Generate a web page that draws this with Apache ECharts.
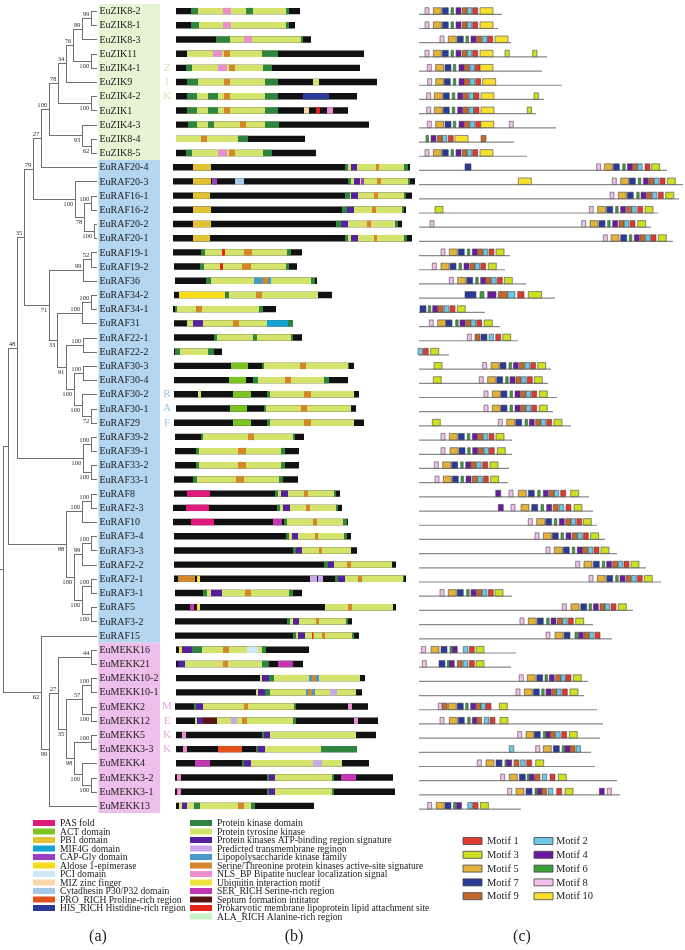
<!DOCTYPE html>
<html><head><meta charset="utf-8">
<script src="https://cdn.jsdelivr.net/npm/echarts@6/dist/echarts.min.js"></script>
<style>html,body{margin:0;padding:0;background:#fff}#c{width:685px;height:950px}</style>
</head><body><div id="c"></div>
<script>
// ---------------- DATA ----------------
const genes = ['EuZIK8-2','EuZIK8-1','EuZIK8-3','EuZIK11','EuZIK4-1','EuZIK9','EuZIK4-2','EuZIK1','EuZIK4-3','EuZIK8-4','EuZIK8-5',
'EuRAF20-4','EuRAF20-3','EuRAF16-1','EuRAF16-2','EuRAF20-2','EuRAF20-1','EuRAF19-1','EuRAF19-2','EuRAF36','EuRAF34-2','EuRAF34-1','EuRAF31','EuRAF22-1','EuRAF22-2','EuRAF30-3','EuRAF30-4','EuRAF30-2','EuRAF30-1','EuRAF29','EuRAF39-2','EuRAF39-1','EuRAF33-2','EuRAF33-1','EuRAF8','EuRAF2-3','EuRAF10','EuRAF3-4','EuRAF3-3','EuRAF2-2','EuRAF2-1','EuRAF3-1','EuRAF5','EuRAF3-2','EuRAF15',
'EuMEKK16','EuMEKK21','EuMEKK10-2','EuMEKK10-1','EuMEKK2','EuMEKK12','EuMEKK5','EuMEKK3-3','EuMEKK4','EuMEKK3-2','EuMEKK3-1','EuMEKK13'];
const groupNames = ['ZIK','RAF','MEKK'];
const groupSizes = [11, 34, 12];

// tree (Newick pieces, branch lengths scaled, internal labels = bootstrap)
const cladeZIK = "((((((EuZIK8-2:6,EuZIK8-1:6)99:9,EuZIK8-3:15)99:9,(EuZIK11:6,EuZIK4-1:6)100:18)76:7,EuZIK9:31)34:8,(EuZIK4-2:6,EuZIK1:6)100:33)78:9,(EuZIK4-3:15,(EuZIK8-4:6,EuZIK8-5:6)62:9)93:33)100";
const cladeRAF20 = "(EuRAF20-3:22,((EuRAF16-1:6,EuRAF16-2:6)100:7,(EuRAF20-2:3,EuRAF20-1:3)100:10)78:9)100";
const cladeRAF19 = "((EuRAF19-1:6,EuRAF19-2:6)52:8,EuRAF36:14)99";
const cladeRAF34 = "((EuRAF34-2:6,EuRAF34-1:6)100:9,EuRAF31:15)100";
const cladeRAF22 = "(EuRAF22-1:14,EuRAF22-2:14)100";
const cladeRAF30 = "((EuRAF30-3:14,EuRAF30-4:14)100:9,(EuRAF30-2:15,(EuRAF30-1:6,EuRAF29:6)72:9)100:8)100";
const cladeRAF39 = "((EuRAF39-2:6,EuRAF39-1:6)100:8,(EuRAF33-2:6,EuRAF33-1:6)100:8)100";
const cladeRAF8 = "((EuRAF8:6,EuRAF2-3:6)100:9,EuRAF10:15)100";
const cladeRAF3 = "(((EuRAF3-4:6,EuRAF3-3:6)100:9,EuRAF2-2:15)99:8,((EuRAF2-1:6,EuRAF3-1:6)100:9,(EuRAF5:6,EuRAF3-2:6)100:9)100:8)100";
const cladeMEKK = "((EuMEKK16:6,EuMEKK21:6)44:33,(((EuMEKK10-2:6,EuMEKK10-1:6)100:9,(EuMEKK2:6,EuMEKK12:6)100:9)57:16,((EuMEKK5:6,EuMEKK3-3:6)100:17,(EuMEKK4:15,(EuMEKK3-2:6,EuMEKK3-1:6)100:9)100:8)98:8)35:8)27";
const treeNewick = `((((((${cladeZIK}:8,EuRAF20-4:56)27:8,${cladeRAF20}:42)79:9,(${cladeRAF19}:34,(${cladeRAF34}:25,(${cladeRAF22}:17,${cladeRAF30}:8)91:9)33:8)71:25)35:7,${cladeRAF39}:66)48:9,(${cladeRAF8}:16,${cladeRAF3}:8)88:58):5,(EuRAF15:56,(${cladeMEKK}:9,EuMEKK13:48)99:8)62:38):3`;

// domain legend
const domainCodes = ['PAS','ACT','PB1','MIF4G','CAP','ALD','PCI','MIZ','CYT','PRO','HIS','PK','PTK','ATP','TM','LPS','ST','NLS','UIM','SER','SEP','PROK','ALA'];
const domainNames = ['PAS fold','ACT domain','PB1 domain','MIF4G domain','CAP-Gly domain','Aldose 1-epimerase','PCI domain','MIZ zinc finger','Cytadhesin P30/P32 domain','PRO_RICH Proline-rich region','HIS_RICH Histidine-rich region',
'Protein kinase domain','Protein tyrosine kinase','Protein kinases ATP-binding region signature','Predicted transmembrane reginon','Lipopolysaccharide kinase family','Serine/Threonine protein kinases active-site signature','NLS_BP Bipatite nuclear localization signal','Ubiquitin interaction motif','SER_RICH Serine-rich region','Septum formation intitator','Prokaryotic membrane lipoprotein lipid attachment site','ALA_RICH Alanine-rich region'];

// protein extents (scaled length units) and domains [code, start, end]
const proteinSpans = [[4,128],[4,123],[4,139],[4,192],[4,188],[4,205],[4,185],[4,176],[4,197],[4,133],[4,144],
[1,238],[1,243],[1,240],[1,234],[1,230],[1,240],[1,130],[2,125],[3,145],[2,160],[1,104],[2,121],[2,130],[2,50],[2,182],[2,176],[2,187],[4,184],[2,192],[3,132],[3,127],[3,127],[2,126],[2,168],[1,170],[1,176],[2,179],[2,185],[2,224],[2,234],[3,130],[3,224],[3,180],[3,187],
[4,137],[4,131],[4,193],[4,190],[3,196],[4,206],[4,204],[4,185],[4,197],[3,221],[3,223],[4,142]];
const domainSegments = [
[['PTK',19,117],['PK',19,26],['NLS',51,59],['PK',74,81],['PK',114,117]],
[['PTK',19,117],['PK',19,27],['NLS',51,59],['PK',114,117]],
[['PTK',44,131],['PK',44,58],['NLS',72,80],['PK',129,131]],
[['PTK',15,106],['NLS',41,50],['ST',52,58],['PK',90,106]],
[['PTK',14,100],['PK',14,20],['NLS',46,55],['ST',57,63],['PK',91,100]],
[['PTK',15,106],['PK',15,26],['ST',52,58],['PK',93,106],['PTK',141,147]],
[['PTK',15,106],['PK',15,25],['PK',36,46],['ST',52,58],['PK',93,106],['HIS',131,157]],
[['PTK',15,106],['PK',15,25],['PK',36,46],['ST',52,58],['PK',93,106],['MIZ',132,137],['PROK',144,148],['NLS',155,161]],
[['PTK',16,107],['PK',16,25],['PK',36,42],['ST',68,74],['PK',93,107]],
[['PTK',4,76],['ST',29,35],['PK',66,76]],
[['PTK',14,100],['PK',14,20],['NLS',46,55],['ST',57,63],['PK',91,100]],
[['PB1',21,39],['PTK',173,232],['PK',173,176],['ATP',179,185],['ST',204,207],['PK',232,236]],
[['PB1',21,39],['CAP',40,45],['CYT',63,72],['PTK',176,236],['PK',176,179],['ATP',182,188],['CAP',189,192],['ST',205,209],['PK',236,238]],
[['PB1',21,38],['PTK',173,232],['PK',173,178],['ATP',179,186],['ST',202,206],['PK',232,234]],
[['PB1',21,39],['PTK',170,230],['PK',170,175],['ATP',175,182],['ST',200,204],['PK',230,232]],
[['PB1',21,39],['PTK',164,223],['PK',164,169],['ATP',169,176],['ST',195,199],['PK',223,226]],
[['PB1',21,38],['PTK',173,232],['PK',173,176],['ATP',179,186],['ST',202,205],['PK',232,235]],
[['PTK',29,119],['PK',29,33],['PROK',50,53],['ST',72,80],['PK',115,119]],
[['PTK',28,117],['PK',28,32],['PROK',48,51],['ST',70,79],['PK',114,117]],
[['PTK',34,143],['PK',34,39],['LPS',82,91],['ST',91,96],['LPS',96,99],['PK',139,143]],
[['ALD',7,53],['PK',53,57],['PTK',57,146],['ST',84,90]],
[['PTK',3,91],['PK',3,5],['ST',24,30],['PK',87,91]],
[['PTK',15,95],['ATP',21,31],['ST',61,67],['MIF4G',95,116],['PK',116,121]],
[['PTK',42,121],['PK',42,45],['PK',81,85],['PK',119,121]],
[['PTK',3,42],['PK',3,8],['PK',36,42]],
[['ACT',59,76],['PTK',90,177],['PK',90,92],['ST',128,134],['PK',176,177]],
[['ACT',57,74],['PTK',81,157],['PK',81,86],['ST',113,119],['PK',152,157]],
[['PTK',26,29],['ACT',61,79],['PTK',95,182],['PK',95,98],['ST',132,139]],
[['ACT',58,75],['PTK',92,179],['PK',92,94],['ST',129,135]],
[['ACT',61,79],['PTK',95,182],['PK',95,98],['ST',132,139]],
[['PTK',29,123],['PK',29,31],['ST',76,82],['PK',121,123]],
[['PTK',24,113],['PK',24,27],['ST',66,74],['PK',109,113]],
[['PTK',24,113],['PK',24,27],['ST',66,74],['PK',109,113]],
[['PTK',21,111],['PK',21,25],['ST',64,72],['PK',107,111]],
[['PAS',15,38],['PTK',103,164],['PK',103,106],['ATP',109,116],['ST',132,136],['PK',162,164]],
[['PAS',14,37],['PTK',105,166],['PK',105,108],['ATP',111,118],['ST',134,138],['PK',164,166]],
[['PAS',19,42],['SER',101,110],['PTK',112,175],['PK',112,115],['ST',141,145],['PK',171,175]],
[['PTK',114,175],['PK',114,117],['ATP',120,126],['ST',143,146],['PK',172,175]],
[['PTK',121,179],['PK',121,124],['ATP',124,130],['ST',147,150]],
[['PTK',152,220],['PK',152,156],['ATP',156,162],['ST',175,179]],
[['ST',6,23],['UIM',25,28],['TM',138,145],['TM',146,151],['PTK',163,232],['PK',163,166],['ATP',166,173],['ST',186,190],['PK',231,232]],
[['PTK',31,121],['PK',31,35],['ATP',39,50],['ST',73,79],['PK',117,121]],
[['SER',18,22],['UIM',25,28],['PTK',153,221],['ST',176,180]],
[['PTK',115,176],['PK',115,118],['ATP',121,127],['ST',144,147],['PK',174,176]],
[['PTK',121,182],['PK',121,124],['ATP',126,133],['PROK',140,141.5],['ST',150,153],['PK',180,182]],
[['UIM',7,10],['ATP',10,20],['PK',20,30],['PTK',30,90],['ST',51,57],['PCI',75,86],['PK',90,94]],
[['ATP',6,13],['PTK',13,90],['ST',51,56],['PK',90,97],['SER',106,121]],
[['PTK',88,188],['ATP',90,97],['PK',97,102],['LPS',137,140],['ST',140,144],['LPS',144,147]],
[['PTK',84,184],['ATP',86,93],['PK',93,98],['LPS',134,136],['ST',136,140],['LPS',140,143],['TM',158,165]],
[['PTK',22,124],['PK',22,24],['ATP',24,31],['ST',72,76],['PK',122,124],['NLS',176,180]],
[['PTK',23,124],['ATP',25,31],['SEP',31,45],['TM',59,65],['ST',70,75],['PK',121,124],['NLS',182,186]],
[['NLS',10,14],['PTK',90,184],['PK',90,92],['ATP',92,98]],
[['NLS',11,15],['PRO',46,70],['PTK',84,149],['PK',84,86],['ATP',86,93],['PK',149,185]],
[['SER',23,38],['PTK',70,170],['PK',70,72],['ATP',72,79],['TM',141,150]],
[['NLS',5,9],['PTK',95,162],['PK',95,97],['ATP',97,103],['PK',160,162],['SER',169,184]],
[['NLS',5,9],['PTK',95,162],['PK',95,97],['ATP',97,103],['PK',160,162]],
[['PTK',7,83],['ATP',10,15],['PK',22,28],['ST',66,72],['PK',79,83]]
];

// motifs
const motifNames = ['Motif 1','Motif 2','Motif 3','Motif 4','Motif 5','Motif 6','Motif 7','Motif 8','Motif 9','Motif 10'];
const motifWidths = [5,4.5,8,5,8,2.5,6,4,5,13];
const motifLineEnds = [84,80,93,129,124,144,126,118,138,96,109,
249,265,261,240,233,255,92,87,108,137,67,82,100,31,133,130,139,135,153,94,94,91,90,171,175,179,187,199,228,243,94,215,175,194,
98,93,170,166,179,185,182,173,177,199,202,103];
const motifSites = [
[[8,7],[5,15.3],[7,24.3],[6,33],[4,38],[9,44.3],[2,49.3],[1,54.7],[10,62]],
[[8,7],[5,15.3],[7,24.3],[6,33],[4,38],[9,44.3],[2,49.3],[1,54.7],[10,62]],
[[8,22],[5,30.3],[7,39.3],[6,48],[4,53],[9,58.7],[2,64.7],[1,69.7],[10,77]],
[[8,7],[5,15.3],[7,24.3],[6,33],[4,38],[9,44.3],[2,49.3],[1,54.7],[10,62],[3,87,4.3],[3,114.7,4.3]],
[[8,9.3],[5,17.7],[7,27],[6,35.3],[4,41],[9,46.3],[2,52],[1,57.3],[10,62]],
[[8,9.7],[5,17.7],[7,26.3],[6,35.3],[4,41],[9,46.3],[2,52],[1,57.7],[10,64.7]],
[[8,8.7],[5,16.3],[7,25.3],[6,34.3],[4,39.7],[9,45.3],[2,51],[1,56],[10,63],[3,116,4.3]],
[[8,8.7],[5,16.3],[7,25.3],[6,34.3],[4,39.7],[9,45.3],[2,51],[1,56],[10,63],[3,109.3,4.3]],
[[8,9.3],[5,17.7],[7,27],[6,35.3],[4,41],[9,46.3],[2,52],[1,57.7],[10,62.7],[8,91.3]],
[[6,8],[4,13],[9,19.3],[2,24.3],[1,30.3],[10,37],[9,63]],
[[8,7],[5,15.3],[7,24.3],[6,33],[4,38],[9,44.3],[2,49.3],[1,54.7],[10,62]],
[[7,47],[8,178.7],[5,186.3],[7,195.3],[6,204.7],[4,209.3],[9,214.7],[2,219.7],[1,227],[3,233.7]],
[[10,100.3],[8,194.3],[5,202.7],[7,211.3],[6,220.3],[4,225.3],[9,231],[2,236.3],[1,242],[3,249.3]],
[[8,192],[5,200.3],[7,209.3],[6,218.7],[4,223],[9,228.7],[2,234.3],[1,240.3],[3,247.7]],
[[3,17],[8,171.3],[5,179.7],[7,188.7],[6,197.7],[4,202.7],[9,208.7],[2,213.7],[1,219.7],[3,227]],
[[8,12],[8,163.7],[5,172],[7,181],[6,189.7],[4,194.7],[9,201],[2,206.3],[1,212],[3,219.7]],
[[8,185.3],[5,193],[7,202.7],[6,211.3],[4,216.3],[9,222],[2,227.7],[1,233],[3,240.3]],
[[8,23],[5,31.3],[7,40.3],[6,49.3],[4,54.3],[9,59.7],[2,65.3],[1,71],[3,78]],
[[8,14.3],[5,23],[7,32],[6,41],[4,46],[9,52],[2,57],[1,62.7],[3,70.3]],
[[8,31.3],[5,39.7],[7,48.7],[6,57.7],[4,62.7],[9,68],[2,73.7],[1,79.3],[3,86.3]],
[[7,47,11],[6,62,4],[4,69.7,8.3],[9,80.3,9.3],[2,89.7,7.3],[1,99.7,6.3],[3,110.3,13.3]],
[[7,2],[6,10.3],[4,14.7],[9,20.3],[2,26.3],[1,32],[3,39.3]],
[[8,11.3],[5,19.7],[7,28],[6,37.7],[4,42],[9,47.7],[2,53],[1,58.7],[3,66.3]],
[[8,49.3],[9,57],[7,63],[2,71],[1,77.7],[3,84.7]],
[[2,0],[1,5.3],[3,12.7]],
[[3,16],[8,64.7],[5,73],[7,82],[6,91],[4,95.3],[9,101.3],[2,107],[1,112.7],[3,119.7]],
[[3,15.3],[8,61.3],[5,69.7],[7,78.7],[6,87.7],[4,92],[9,98],[2,103.7],[1,109.3],[3,116.3]],
[[8,66],[5,74.3],[7,83],[6,92],[4,97],[9,102.7],[2,108],[1,113.7],[3,121.3]],
[[8,66],[5,74.3],[7,83],[6,92],[4,97],[9,102.7],[2,108],[1,113.7],[3,121.3]],
[[3,14.3],[8,80.3],[5,88.7],[7,97.7],[6,107],[4,111.3],[9,117.7],[2,123],[1,128.7],[3,136]],
[[8,23],[5,31.3],[7,40.3],[6,49.3],[4,54.3],[9,59.7],[2,65.3],[1,71],[3,78]],
[[8,23],[5,32],[7,41],[6,49.7],[4,54.7],[9,60.3],[2,66],[1,71.3],[3,79.3]],
[[8,16.3],[5,24.7],[7,33.7],[6,42.7],[4,47.7],[9,53],[2,58.7],[1,64.7],[3,72]],
[[8,17],[5,25.3],[7,34.3],[6,43],[4,48],[9,54.3],[2,59.7],[1,65.3],[3,72.7]],
[[4,77.7],[8,91],[5,100.3],[7,110.3],[6,119.7],[4,125.3],[9,131.3],[2,136.3],[1,142.7],[3,152.7]],
[[4,80.3],[8,93],[5,103],[7,113.7],[6,123],[4,128.7],[9,135.3],[2,141.3],[1,148],[3,156]],
[[8,110.3],[5,118.7],[7,127.7],[6,136.3],[4,141.3],[9,147.7],[2,153],[1,158.7],[3,165.3]],
[[8,117],[5,125.3],[7,134.3],[6,143],[4,148],[9,154.3],[2,159.7],[1,165.3],[3,172.7]],
[[8,128],[5,136.3],[7,145.3],[6,154.3],[4,159.3],[9,164.7],[2,170.3],[1,176],[3,183]],
[[8,157.7],[5,166],[7,175.3],[6,184.3],[4,188.7],[9,194.7],[2,200.3],[1,206],[3,213]],
[[8,171],[5,179.3],[7,188.7],[6,197.7],[4,202],[9,208],[2,213.7],[1,219.3],[3,226.3]],
[[8,22],[5,30.3],[7,39.3],[6,48.7],[4,53],[9,58.7],[2,64.3],[1,70.3],[3,77]],
[[8,144.3],[5,153],[7,162.7],[6,171],[4,175.3],[9,182],[2,187],[1,193],[3,200.3]],
[[8,102],[5,110.3],[7,119.3],[6,128.7],[4,133],[9,139.3],[2,144.7],[1,150.3],[3,157.7]],
[[8,128],[5,137],[7,146],[6,157],[4,160.3],[9,166],[2,171.3],[1,177]],
[[8,3.7],[5,13],[7,23],[6,32],[4,34.3],[2,45.3],[1,51.3],[3,58]],
[[8,4.3],[7,21],[6,29.3],[4,31.3],[9,39.3],[2,45.3],[1,51.3],[3,58]],
[[8,101.3],[5,109.3],[7,118.7],[6,127],[4,131.3],[9,137.7],[2,143],[1,148],[3,155.3]],
[[8,98],[5,106.3],[7,115.3],[6,123.7],[4,128],[9,133.7],[2,138.7],[1,144.3],[3,152]],
[[8,20.3],[9,24.3],[5,30.3],[7,39.3],[6,47.7],[4,52.7],[9,58],[2,63],[1,68],[3,81.3]],
[[8,22],[5,31.3],[7,40.3],[6,49.7],[4,54.3],[9,58.7],[2,66.3],[1,72],[3,82]],
[[8,99.7],[5,108],[7,116.3],[6,125.3],[4,128],[9,132],[2,137.7],[1,143.7],[3,151.3]],
[[2,91.3],[8,117.7],[5,125.3],[7,135.3],[6,144.3],[4,147],[9,152],[2,158]],
[[8,59.3],[5,68],[7,78],[6,87],[4,88.7],[9,96],[2,102.7],[1,108.7],[3,117.7]],
[[8,82.7],[5,91.3],[7,101.3],[6,109.3],[4,111.3],[9,117],[2,124.3],[1,132],[3,140.3]],
[[8,89.7],[5,98],[7,108],[6,117],[4,119.3],[9,123.7],[2,130.3],[1,138.7],[3,147],[4,181.3],[8,189.3]],
[[8,9.6],[5,18.2],[7,27],[6,35.5],[4,38.5],[2,49.8],[1,55],[3,62.4]]
];
const panelLabels = ['(a)','(b)','(c)'];

// ---------------- STYLE ----------------
const SERIF = '"Liberation Serif","Times New Roman",serif';
const domainColors = ['#e0197d','#7cc424','#e2c232','#13a3d3','#9a3fc4','#f7dc1a','#cde9f7','#f9d8ad','#a3cbe9','#e4501c','#2b3a9a',
'#2f8540','#d4e36b','#561fa0','#c9a7e8','#4a98c9','#d4862a','#e98fcf','#f1e23c','#c337b5','#561414','#e3241c','#c6f2c6'];
const motifColors = ['#e03a2e','#6cc8e4','#cfe020','#6a1aa0','#e2b23a','#3aa03a','#2a3a98','#f3c0ea','#c5672a','#f8e030'];
const groupBg = ['#e6f4d4','#b4d6f0','#efbfeb'];
const groupLetterColor = ['#cfe9b0','#9cc6e6','#eaa6e2'];
const treeColor = '#707070';

// ---------------- BUILD ----------------
function parseNewick(str){
  let i=0;
  function parse(){
    const node={children:[],name:'',len:0};
    if(str[i]==='('){
      i++;
      node.children.push(parse());
      while(str[i]===','){ i++; node.children.push(parse()); }
      i++;
    }
    let name='';
    while(i<str.length && ':,()'.indexOf(str[i])<0) name+=str[i++];
    node.name=name;
    if(str[i]===':'){ i++; let num=''; while(i<str.length && ',()'.indexOf(str[i])<0) num+=str[i++]; node.len=parseFloat(num); }
    return node;
  }
  return parse();
}
const treeRoot = parseNewick(treeNewick);
const treeItems=[];
(function layout(n, px, upper){
  n.x = px + n.len;
  if(n.children.length){
    n.children.forEach((c,k)=>layout(c, n.x, k===0));
    const ys = n.children.map(c=>c.y);
    n.y = (ys[0]+ys[ys.length-1])/2;
    const b = parseFloat(n.name);
    treeItems.push([px, n.x, n.y, ys[0], ys[ys.length-1], isNaN(b)?-1:b, upper?1:0, 0]);
  } else {
    n.y = genes.indexOf(n.name);
    treeItems.push([px, n.x, n.y, n.y, n.y, -1, upper?1:0, 1]);
  }
})(treeRoot, 0, true);
const tipX = Math.max(...treeItems.map(d=>d[1]));

const groupItems=[]; {let s=0; groupSizes.forEach((n,g)=>{groupItems.push([s, s+n-1, g]); s+=n;});}

const domainItems=[];
proteinSpans.forEach((sp,i)=>{
  domainItems.push([i, sp[0], sp[1], -1]);
  domainSegments[i].forEach(seg=>domainItems.push([i, seg[1], seg[2], domainCodes.indexOf(seg[0])]));
});
const lineItems = motifLineEnds.map((e,i)=>[i, 1, e]);
const boxItems=[];
motifSites.forEach((row,i)=>row.forEach(m=>boxItems.push([i, m[1], m.length>2?m[2]:motifWidths[m[0]-1], m[0]-1])));

const N = genes.length;
const gridTop = 4, gridH = 809;
const yBase = {type:'value', min:-0.5, max:N-0.5, inverse:true, show:false};
const px5 = v=>Math.round(v)+0.5;

function renderTree(params, api){
  const p=api.value(0), x=api.value(1), y=api.value(2);
  const a=api.coord([p,y]), b=api.coord([x,y]);
  const yy=px5(a[1]);
  const leaf=api.value(7)===1;
  const xx=px5(b[0]);
  const kids=[{type:'line',shape:{x1:px5(a[0])-0.5,y1:yy,x2:leaf?b[0]:xx+0.5,y2:yy},style:{stroke:treeColor,lineWidth:1}}];
  if(!leaf){
    const c=api.coord([x,api.value(3)]), d=api.coord([x,api.value(4)]);
    kids.push({type:'line',shape:{x1:xx,y1:px5(c[1])-0.5,x2:xx,y2:px5(d[1])+0.5},style:{stroke:treeColor,lineWidth:1}});
    const bs=api.value(5);
    if(bs>=0){
      const up=api.value(6)===1;
      kids.push({type:'text',x:b[0]-1.5,y:up?yy-0.3:yy+1,style:{text:String(bs),fill:'#333',font:'6.8px '+SERIF,align:'right',verticalAlign:up?'bottom':'top'}});
    }
  }
  return {type:'group',children:kids};
}
function renderGroups(params, api){
  const f=api.value(0), l=api.value(1), g=api.value(2);
  const a=api.coord([98.5, f-0.5]), b=api.coord([160, l+0.5]);
  const kids=[{type:'rect',shape:{x:a[0],y:a[1],width:b[0]-a[0],height:b[1]-a[1]},style:{fill:groupBg[g]}}];
  const letters=groupNames[g].split('');
  const start=Math.ceil((f+l)/2-(letters.length-1)/2);
  letters.forEach((ch,k)=>{
    const p=api.coord([167, start+k]);
    kids.push({type:'text',x:p[0],y:p[1],style:{text:ch,fill:groupLetterColor[g],font:'11px '+SERIF,align:'center',verticalAlign:'middle'}});
  });
  return {type:'group',children:kids};
}
function renderLeafLabels(params, api){
  const p=api.coord([api.value(0), api.value(1)]);
  return {type:'text',x:p[0]+2.5,y:p[1]+0.5,style:{text:genes[params.dataIndex],fill:'#1a1a1a',font:'10px '+SERIF,verticalAlign:'middle'}};
}
function renderDomain(params, api){
  const r=api.value(0), t=api.value(3);
  const a=api.coord([api.value(1), r]), b=api.coord([api.value(2), r]);
  const h=6.4;
  return {type:'rect',shape:{x:a[0],y:a[1]-h/2,width:Math.max(b[0]-a[0],0.9),height:h},style:{fill:t<0?'#111111':domainColors[t]}};
}
function renderLine(params, api){
  const r=api.value(0);
  const a=api.coord([api.value(1), r]), b=api.coord([api.value(2), r]);
  const y=a[1]+3.2;
  return {type:'line',shape:{x1:a[0],y1:y,x2:b[0],y2:y},style:{stroke:'#8a8a8a',lineWidth:1.2}};
}
function renderBox(params, api){
  const r=api.value(0), s=api.value(1), w=api.value(2), m=api.value(3);
  const a=api.coord([s, r]), b=api.coord([s+w, r]);
  return {type:'rect',shape:{x:a[0],y:a[1]-3.4,width:b[0]-a[0],height:6.4},style:{fill:motifColors[m],stroke:'#4a4a4a',lineWidth:0.6}};
}

// legend graphics
const graphics=[];
domainNames.forEach((nm,k)=>{
  const col=k<11?0:1, row=col?k-11:k;
  const sx=col?190:33, tx=col?217:60, y=823+row*8.5;
  graphics.push({type:'rect',shape:{x:sx,y:y-3,width:22,height:6},style:{fill:domainColors[k]}});
  graphics.push({type:'text',x:tx,y:y+0.5,style:{text:nm,fill:'#222',font:'9.6px '+SERIF,verticalAlign:'middle'}});
});
motifNames.forEach((nm,k)=>{
  const col=k%2, row=Math.floor(k/2);
  const sx=col?534:463, tx=col?556:487, y=841+row*13.8;
  graphics.push({type:'rect',shape:{x:sx,y:y-3.5,width:19,height:7},style:{fill:motifColors[k],stroke:'#444',lineWidth:0.8}});
  graphics.push({type:'text',x:tx,y:y+0.5,style:{text:nm,fill:'#222',font:'10.5px '+SERIF,verticalAlign:'middle'}});
});
[98,294,522].forEach((x,k)=>graphics.push({type:'text',x:x,y:937,style:{text:panelLabels[k],fill:'#222',font:'16px '+SERIF,align:'center',verticalAlign:'middle'}}));

const chart = echarts.init(document.getElementById('c'));
chart.setOption({
  animation:false,
  backgroundColor:'#ffffff',
  grid:[{left:0,top:gridTop,width:175,height:gridH},{left:172,top:gridTop,width:250,height:gridH},{left:418,top:gridTop,width:267,height:gridH}],
  xAxis:[{type:'value',min:0,max:175,show:false,gridIndex:0},{type:'value',min:0,max:250,show:false,gridIndex:1},{type:'value',min:0,max:267,show:false,gridIndex:2}],
  yAxis:[0,1,2].map(i=>Object.assign({gridIndex:i},yBase)),
  series:[
    {type:'custom',xAxisIndex:0,yAxisIndex:0,z:1,renderItem:renderGroups,data:groupItems,silent:true},
    {type:'custom',xAxisIndex:0,yAxisIndex:0,z:2,renderItem:renderTree,data:treeItems,silent:true},
    {type:'custom',xAxisIndex:0,yAxisIndex:0,z:3,renderItem:renderLeafLabels,data:genes.map((g,i)=>[tipX,i]),silent:true},
    {type:'custom',xAxisIndex:1,yAxisIndex:1,z:2,renderItem:renderDomain,data:domainItems,silent:true},
    {type:'custom',xAxisIndex:2,yAxisIndex:2,z:2,renderItem:renderLine,data:lineItems,silent:true},
    {type:'custom',xAxisIndex:2,yAxisIndex:2,z:3,renderItem:renderBox,data:boxItems,silent:true}
  ],
  graphic:graphics
});
</script>
</body></html>
